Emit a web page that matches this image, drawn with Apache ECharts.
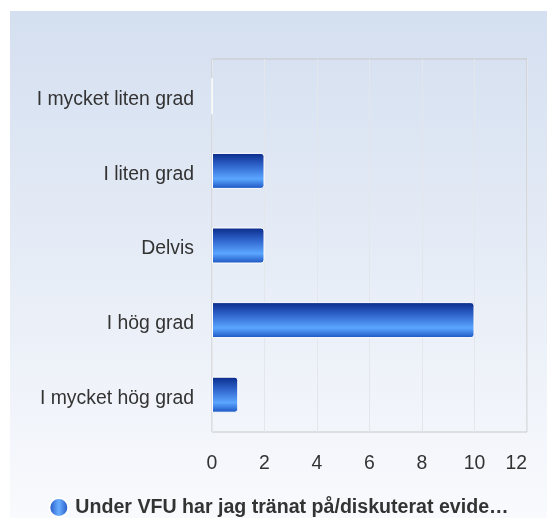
<!DOCTYPE html>
<html>
<head>
<meta charset="utf-8">
<script src="https://cdn.jsdelivr.net/npm/echarts@6/dist/echarts.min.js"></script>
<style>
html,body{margin:0;padding:0;background:#fff;}
#chart{position:absolute;left:10px;top:11px;width:537px;height:507px;}
</style>
</head>
<body>
<div id="chart"></div>
<script>
const categories = ["I mycket liten grad", "I liten grad", "Delvis", "I hög grad", "I mycket hög grad"];
const seriesName = "Under VFU har jag tränat på/diskuterat evide…";
const values = [0, 2, 2, 10, 1];
const xTicks = [0, 2, 4, 6, 8, 10, 12];

const chart = echarts.init(document.getElementById('chart'), null, {renderer: 'canvas'});
const font = 'Arial, "Liberation Sans", Helvetica, sans-serif';
const barGrad = new echarts.graphic.LinearGradient(0, 0, 0, 1, [
  {offset: 0, color: '#0a2a88'},
  {offset: 0.35, color: '#2f64cc'},
  {offset: 0.72, color: '#5ba6ff'},
  {offset: 1, color: '#1a52c0'}
]);
const iconGrad = new echarts.graphic.LinearGradient(0, 0, 1, 0, [
  {offset: 0, color: '#1a4dbf'},
  {offset: 0.5, color: '#6aaeff'},
  {offset: 1, color: '#1a4dbf'}
]);
chart.setOption({
  backgroundColor: new echarts.graphic.LinearGradient(0, 0, 0, 1, [
    {offset: 0, color: '#d4dff0'},
    {offset: 1, color: '#f9fafd'}
  ]),
  animation: false,
  grid: {left: 202, top: 48, right: 20, bottom: 86, show: true, borderColor: '#c8c8c8', borderWidth: 1, backgroundColor: 'transparent'},
  legend: {
    top: 486,
    left: 'center',
    padding: 0,
    icon: 'circle',
    itemWidth: 19,
    itemHeight: 19,
    itemGap: 10,
    textStyle: {fontFamily: font, fontSize: 19.6, fontWeight: 'bold', color: '#333', padding: [2, 0, 0, 2]},
    data: [{name: seriesName, itemStyle: {color: iconGrad}}]
  },
  xAxis: {
    type: 'value',
    min: xTicks[0],
    max: xTicks[xTicks.length - 1],
    interval: 2,
    axisLine: {show: false},
    axisTick: {show: false},
    splitLine: {show: true, lineStyle: {color: '#e3e6ea', width: 1}},
    axisLabel: {fontFamily: font, fontSize: 19.4, color: '#333', margin: 22, alignMaxLabel: 'right'}
  },
  yAxis: {
    type: 'category',
    data: categories,
    inverse: true,
    axisLine: {show: false},
    axisTick: {show: false},
    splitLine: {show: false},
    axisLabel: {fontFamily: font, fontSize: 19.4, color: '#333', margin: 18, verticalAlign: 'top', lineHeight: 7}
  },
  series: [{
    name: seriesName,
    type: 'bar',
    data: values,
    barWidth: 36,
    itemStyle: {color: barGrad, borderColor: '#ffffff', borderWidth: 1, borderRadius: [0, 3, 3, 0]},
    emphasis: {disabled: true}
  }]
});
</script>
</body>
</html>
